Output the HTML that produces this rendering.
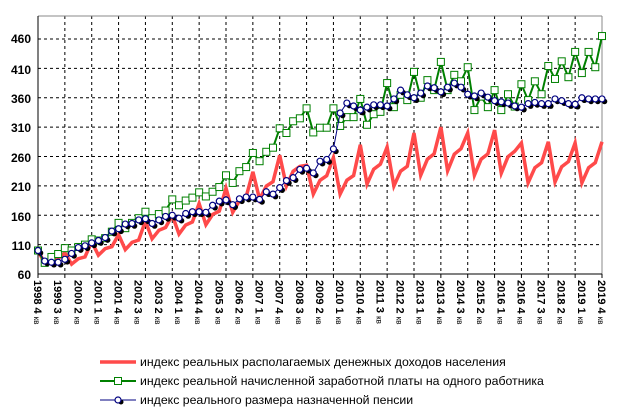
<!DOCTYPE html>
<html><head><meta charset="utf-8">
<style>
html,body{margin:0;padding:0;background:#fff;}
svg{display:block;font-family:"Liberation Sans",Arial,sans-serif;}
.yl{font-size:12px;font-weight:bold;text-anchor:end;fill:#000;}
.xl{font-size:11px;font-weight:bold;fill:#000;}
.xl tspan{font-size:8px;font-weight:normal;}
.lg{font-size:12.3px;fill:#000;}
</style></head>
<body>
<svg id="s" width="626" height="417" viewBox="0 0 626 417" xmlns="http://www.w3.org/2000/svg">
<g id="grid" stroke="#000" stroke-width="1" stroke-dasharray="3,3"></g>
<line x1="38" y1="16" x2="602" y2="16" stroke="#888"/>
<line x1="602" y1="16" x2="602" y2="274" stroke="#888"/>
<line x1="38" y1="16" x2="38" y2="274" stroke="#000"/>
<line x1="38" y1="274" x2="602" y2="274" stroke="#000"/>
<g id="ticks" stroke="#000"></g>
<g>
<text class="yl" x="31" y="43">460</text>
<text class="yl" x="31" y="74">410</text>
<text class="yl" x="31" y="103">360</text>
<text class="yl" x="31" y="132">310</text>
<text class="yl" x="31" y="162">260</text>
<text class="yl" x="31" y="191">210</text>
<text class="yl" x="31" y="221">160</text>
<text class="yl" x="31" y="250">110</text>
<text class="yl" x="31" y="279">60</text>
</g>
<g class="xl">
<text transform="translate(34,280) rotate(90)">1998 4 <tspan>кв</tspan></text>
<text transform="translate(54.1,280) rotate(90)">1999 3 <tspan>кв</tspan></text>
<text transform="translate(74.3,280) rotate(90)">2000 2 <tspan>кв</tspan></text>
<text transform="translate(94.4,280) rotate(90)">2001 1 <tspan>кв</tspan></text>
<text transform="translate(114.6,280) rotate(90)">2001 4 <tspan>кв</tspan></text>
<text transform="translate(134.7,280) rotate(90)">2002 3 <tspan>кв</tspan></text>
<text transform="translate(154.9,280) rotate(90)">2003 2 <tspan>кв</tspan></text>
<text transform="translate(175,280) rotate(90)">2004 1 <tspan>кв</tspan></text>
<text transform="translate(195.1,280) rotate(90)">2004 4 <tspan>кв</tspan></text>
<text transform="translate(215.3,280) rotate(90)">2005 3 <tspan>кв</tspan></text>
<text transform="translate(235.4,280) rotate(90)">2006 2 <tspan>кв</tspan></text>
<text transform="translate(255.6,280) rotate(90)">2007 1 <tspan>кв</tspan></text>
<text transform="translate(275.7,280) rotate(90)">2007 4 <tspan>кв</tspan></text>
<text transform="translate(295.9,280) rotate(90)">2008 3 <tspan>кв</tspan></text>
<text transform="translate(316,280) rotate(90)">2009 2 <tspan>кв</tspan></text>
<text transform="translate(336.1,280) rotate(90)">2010 1 <tspan>кв</tspan></text>
<text transform="translate(356.3,280) rotate(90)">2010 4 <tspan>кв</tspan></text>
<text transform="translate(376.4,280) rotate(90)">2011 3 <tspan>кв</tspan></text>
<text transform="translate(396.6,280) rotate(90)">2012 2 <tspan>кв</tspan></text>
<text transform="translate(416.7,280) rotate(90)">2013 1 <tspan>кв</tspan></text>
<text transform="translate(436.9,280) rotate(90)">2013 4 <tspan>кв</tspan></text>
<text transform="translate(457,280) rotate(90)">2014 3 <tspan>кв</tspan></text>
<text transform="translate(477.1,280) rotate(90)">2015 2 <tspan>кв</tspan></text>
<text transform="translate(497.3,280) rotate(90)">2016 1 <tspan>кв</tspan></text>
<text transform="translate(517.4,280) rotate(90)">2016 4 <tspan>кв</tspan></text>
<text transform="translate(537.6,280) rotate(90)">2017 3 <tspan>кв</tspan></text>
<text transform="translate(557.7,280) rotate(90)">2018 2 <tspan>кв</tspan></text>
<text transform="translate(577.9,280) rotate(90)">2019 1 <tspan>кв</tspan></text>
<text transform="translate(598,280) rotate(90)">2019 4 <tspan>кв</tspan></text>
</g>
<g id="series"></g>
<!-- legend -->
<line x1="100" y1="362" x2="136" y2="362" stroke="#ff4a4a" stroke-width="3.5"/>
<text class="lg" x="140" y="366">индекс реальных располагаемых денежных доходов населения</text>
<line x1="100" y1="381" x2="136" y2="381" stroke="#008000" stroke-width="2"/>
<rect x="114.5" y="377.5" width="7" height="7" fill="#fff" stroke="#008000"/>
<text class="lg" x="140" y="385">индекс реальной начисленной заработной платы на одного работника</text>
<line x1="100" y1="400" x2="136" y2="400" stroke="#000080" stroke-width="1"/>
<circle cx="121" cy="402" r="2.5" fill="#000"/>
<circle cx="118" cy="400" r="3" fill="#fff" stroke="#000080" stroke-width="1.2"/>
<text class="lg" x="140" y="404">индекс реального размера назначенной пенсии</text>
</svg>
<script>
var NS="http://www.w3.org/2000/svg";
function X(i){return 38+i*564/84;}
function Y(v){return 274-(v-60)*0.5875;}
function el(t,a,p){var e=document.createElementNS(NS,t);for(var k in a)e.setAttribute(k,a[k]);p.appendChild(e);return e;}
var g=document.getElementById('grid'),tk=document.getElementById('ticks'),S=document.getElementById('series');
[110,160,210,260,310,360,410,460].forEach(function(v){el('line',{x1:38,x2:602,y1:Y(v),y2:Y(v)},g);});
for(var i=4;i<84;i+=4)el('line',{x1:X(i),x2:X(i),y1:16,y2:274},g);
for(var i=0;i<=84;i+=4)el('line',{x1:X(i),x2:X(i),y1:274,y2:278},tk);
var peaks={1999:96,2000:115,2001:127,2002:150,2003:160,2004:180,2005:206,2006:234,2007:262,2008:245,2009:258,2010:280,2011:276,2012:300,2013:310,2014:300,2015:305,2016:283,2017:285,2018:283,2019:285};
var red=[100,78,82,86,96],prev=96;
for(var y=2000;y<=2019;y++){var r=y>2009?0.76:0.8;var q1=prev*r;red.push(q1,q1*1.12,q1*1.16,peaks[y]);prev=peaks[y];}
var green=[100,79,89,94,104,100,106,110,119,117,121,132,147,138,147,155,166,155,162,168,187,177,185,190,199,192,200,208,228,215,235,242,266,252,268,275,308,300,320,325,342,301,309,309,342,312,327,327,358,314,332,336,385,344,365,356,404,360,390,373,421,373,399,388,412,339,362,344,373,339,366,345,383,356,388,366,414,392,422,395,438,402,438,412,465];
var blue=[100,82,80,80,85,95,105,108,113,117,122,133,137,145,146,152,154,146,152,158,160,155,163,166,166,165,177,184,186,178,188,191,191,187,200,196,207,219,224,238,240,232,252,255,273,334,351,346,339,344,348,348,346,358,373,365,360,368,380,377,370,378,385,378,366,363,368,361,355,353,351,346,344,350,352,350,350,358,355,350,349,360,358,358,358];
function pts(a){return a.map(function(v,i){return X(i).toFixed(1)+','+Y(v).toFixed(1);}).join(' ');}
el('polyline',{points:pts(red),fill:'none',stroke:'#ff4a4a','stroke-width':3.5,'stroke-linejoin':'miter'},S);
el('polyline',{points:pts(green),fill:'none',stroke:'#008000','stroke-width':2},S);
green.forEach(function(v,i){el('rect',{x:X(i)-3.5,y:Y(v)-3.5,width:7,height:7,fill:'#fff',stroke:'#008000','stroke-width':1},S);});
blue.forEach(function(v,i){el('circle',{cx:X(i)+2.5,cy:Y(v)+2.5,r:2.8,fill:'#000'},S);});
el('polyline',{points:pts(blue),fill:'none',stroke:'#000080','stroke-width':1},S);
blue.forEach(function(v,i){el('circle',{cx:X(i),cy:Y(v),r:3,fill:'#fff',stroke:'#000080','stroke-width':1.2},S);});
</script>
</body></html>
